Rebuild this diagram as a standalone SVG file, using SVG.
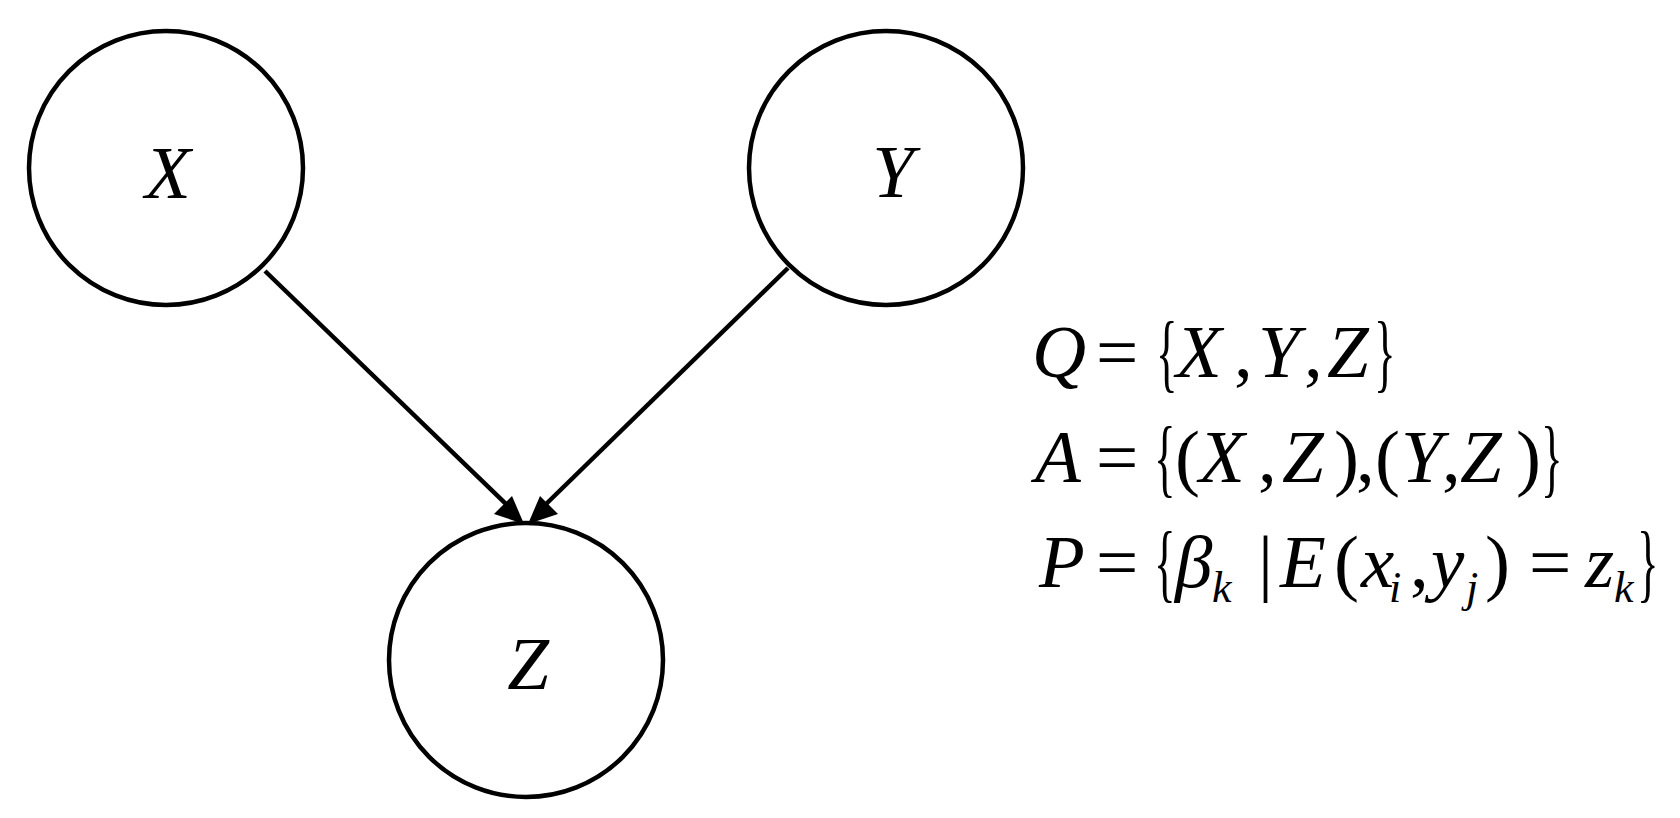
<svg xmlns="http://www.w3.org/2000/svg" width="1680" height="818" viewBox="0 0 1680 818">
<defs>
<style>
.n{fill:#fff;stroke:#000;stroke-width:4.5}
.t{font-family:"Liberation Serif",serif;font-size:75px;fill:#000}
.i{font-style:italic}
.s{font-size:44px;font-style:italic}
.e{stroke:#000;stroke-width:4.5;fill:none}
.b{font-family:"Liberation Serif",serif;font-size:75px;fill:#000}
</style>
</defs>
<rect width="1680" height="818" fill="#fff"/>
<g id="connectors">
<path class="e" d="M265,271 L510,508"/>
<path d="M524,524 L494,514 L512,496 z" fill="#000"/>
<path class="e" d="M788,268 L542,508"/>
<path d="M528,524 L540,496 L558,514 z" fill="#000"/>
</g>
<g id="node-X"><circle class="n" cx="166" cy="168" r="137"/><text class="t i" x="168" y="198" text-anchor="middle">X</text></g>
<g id="node-Y"><circle class="n" cx="886" cy="168" r="137"/><text class="t i" x="893" y="197" text-anchor="middle">Y</text></g>
<g id="node-Z"><circle class="n" cx="526" cy="660" r="137"/><text class="t i" x="528" y="689" text-anchor="middle">Z</text></g>
<g id="formulas">
<text class="t" y="377"><tspan class="i" x="1032">Q</tspan><tspan x="1096">=</tspan><tspan class="i" x="1176">X</tspan><tspan x="1234">,</tspan><tspan class="i" x="1258">Y</tspan><tspan x="1304">,</tspan><tspan class="i" x="1327">Z</tspan></text>
<text class="b" transform="translate(1156,381) scale(0.6,1.15)">{</text>
<text class="b" transform="translate(1374,381) scale(0.6,1.15)">}</text>
<text class="t" y="482"><tspan class="i" x="1035">A</tspan><tspan x="1096">=</tspan><tspan x="1175">(</tspan><tspan class="i" x="1199">X</tspan><tspan x="1258">,</tspan><tspan class="i" x="1282">Z</tspan><tspan x="1334">)</tspan><tspan x="1356">,</tspan><tspan x="1375">(</tspan><tspan class="i" x="1401">Y</tspan><tspan x="1442">,</tspan><tspan class="i" x="1460">Z</tspan><tspan x="1516">)</tspan></text>
<text class="b" transform="translate(1154,486) scale(0.6,1.15)">{</text>
<text class="b" transform="translate(1541,486) scale(0.6,1.15)">}</text>
<text class="t" y="587"><tspan class="i" x="1039">P</tspan><tspan x="1096">=</tspan><tspan class="i" x="1175">β</tspan><tspan class="s" x="1212" dy="15">k</tspan><tspan x="1258" dy="-15">|</tspan><tspan class="i" x="1280">E</tspan><tspan x="1334">(</tspan><tspan class="i" x="1361">x</tspan><tspan class="s" x="1389" dy="15">i</tspan><tspan x="1410" dy="-15">,</tspan><tspan class="i" x="1431">y</tspan><tspan class="s" x="1466" dy="15">j</tspan><tspan x="1485" dy="-15">)</tspan><tspan x="1529">=</tspan><tspan class="i" x="1585">z</tspan><tspan class="s" x="1614" dy="15">k</tspan></text>
<text class="b" transform="translate(1154,591) scale(0.6,1.15)">{</text>
<text class="b" transform="translate(1637,591) scale(0.6,1.15)">}</text>
</g>
</svg>
